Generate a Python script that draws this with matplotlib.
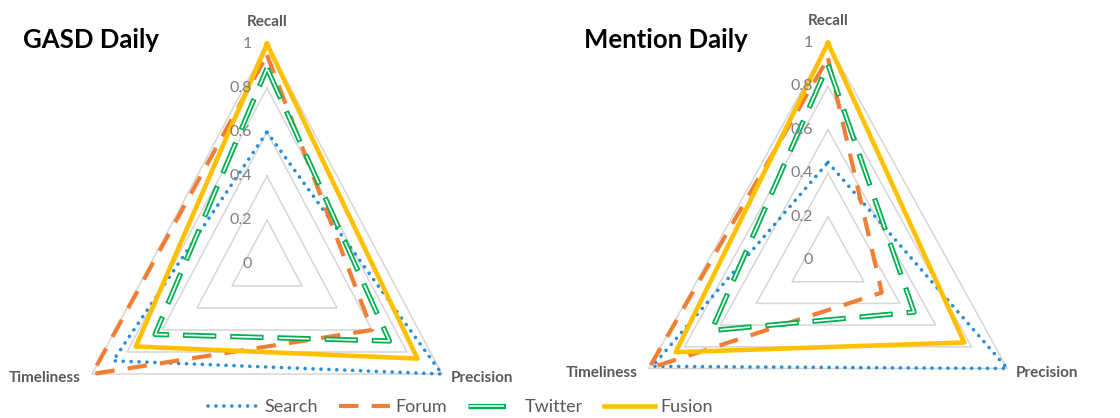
import numpy as np
import matplotlib.pyplot as plt
from matplotlib.lines import Line2D

plt.rcParams['lines.scale_dashes'] = False
plt.rcParams['font.family'] = ['Lato', 'DejaVu Sans']

# axis order: Recall (top), Precision (bottom right), Timeliness (bottom left)
categories = ['Recall', 'Precision', 'Timeliness']
ticks = [0, 0.2, 0.4, 0.6, 0.8, 1]
series_names = ['Search', 'Forum', 'Twitter', 'Fusion']

gasd_search = [0.6, 1.0, 0.88]
gasd_forum = [0.95, 0.6, 1.0]
gasd_twitter = [0.89, 0.7, 0.64]
gasd_fusion = [1.0, 0.86, 0.75]

mention_search = [0.45, 1.0, 0.98]
mention_forum = [0.93, 0.3, 1.0]
mention_twitter = [0.9, 0.48, 0.65]
mention_fusion = [1.0, 0.76, 0.85]

W, H = 1120, 418
fig = plt.figure(figsize=(11.2, 4.18), dpi=100)

ang = np.radians([0, 120, 240, 0])
label_off = {'Recall': ((0, 16), 'center', 'center'),
             'Precision': ((6, -3), 'left', 'center'),
             'Timeliness': ((-8, -3), 'right', 'center')}


def xy(vals):
    r = np.array(list(vals) + [vals[0]])
    return r * np.sin(ang), r * np.cos(ang)


def radar(cx, cy, rx, ry, title, search, forum, twitter, fusion):
    # full-figure axes, centre of radar at pixel (cx, cy) from top-left
    ax = fig.add_axes([0, 0, 1, 1])
    ax.set_xlim(-cx / rx, (W - cx) / rx)
    ax.set_ylim(-(H - cy) / ry, cy / ry)
    ax.axis('off')

    for t in ticks[1:]:
        x, y = xy([t] * 3)
        ax.plot(x, y, color='#d6d6d6', lw=1.1, zorder=1)
    for t in ticks:
        ax.annotate('%g' % t, (0, t), xytext=(-11, 0), textcoords='offset points',
                    ha='right', va='center', fontsize=11.5, color='#7f7f7f', zorder=6)
    for i, c in enumerate(categories):
        off, ha, va = label_off[c]
        ax.annotate(c, (np.sin(ang[i]), np.cos(ang[i])), xytext=off,
                    textcoords='offset points', ha=ha, va=va, fontsize=11,
                    fontweight='bold', color='#595959')

    x, y = xy(search)
    h1, = ax.plot(x, y, color='#2b8fd6', lw=2.6, linestyle=(0, (0.1, 5.6)),
                  dash_capstyle='round', zorder=2)
    x, y = xy(forum)
    h2, = ax.plot(x, y, color='#f07f35', lw=3.0, linestyle=(0, (14, 9.5)), zorder=3)
    x, y = xy(twitter)
    ax.plot(x, y, color='#00b050', lw=3.8, linestyle=(0, (24, 10)), zorder=4)
    ax.plot(x, y, color='white', lw=1.2, linestyle=(32.9, (21.8, 12.2)), zorder=4)
    x, y = xy(fusion)
    h4, = ax.plot(x, y, color='#ffc000', lw=3.3, zorder=5)

    fig.text((cx - 244) / W, 1 - 40 / H, title, fontsize=18.5, fontweight='bold',
             va='center', ha='left', color='black')
    return [h1, h2, h4]


h1, h2, h4 = radar(267, 264, 202, 220, 'GASD Daily',
                   gasd_search, gasd_forum, gasd_twitter, gasd_fusion)
radar(828, 260, 207, 217, 'Mention Daily',
      mention_search, mention_forum, mention_twitter, mention_fusion)

# legend proxy for the double-line twitter style: a single short dash
tw_out = Line2D([], [], color='#00b050', lw=3.8, linestyle=(0, (27, 30)))
tw_in = Line2D([], [], color='white', lw=1.2, linestyle=(56, (25, 32)))

fig.legend([h1, h2, (tw_out, tw_in), h4], series_names, ncol=4, loc='center left',
           bbox_to_anchor=(208 / W, 1 - 407 / H), frameon=False, fontsize=13,
           labelcolor='#595959', handlelength=2.8, columnspacing=1.2,
           handletextpad=0.3, borderpad=0, borderaxespad=0)

fig.savefig('out.png', dpi=100)
